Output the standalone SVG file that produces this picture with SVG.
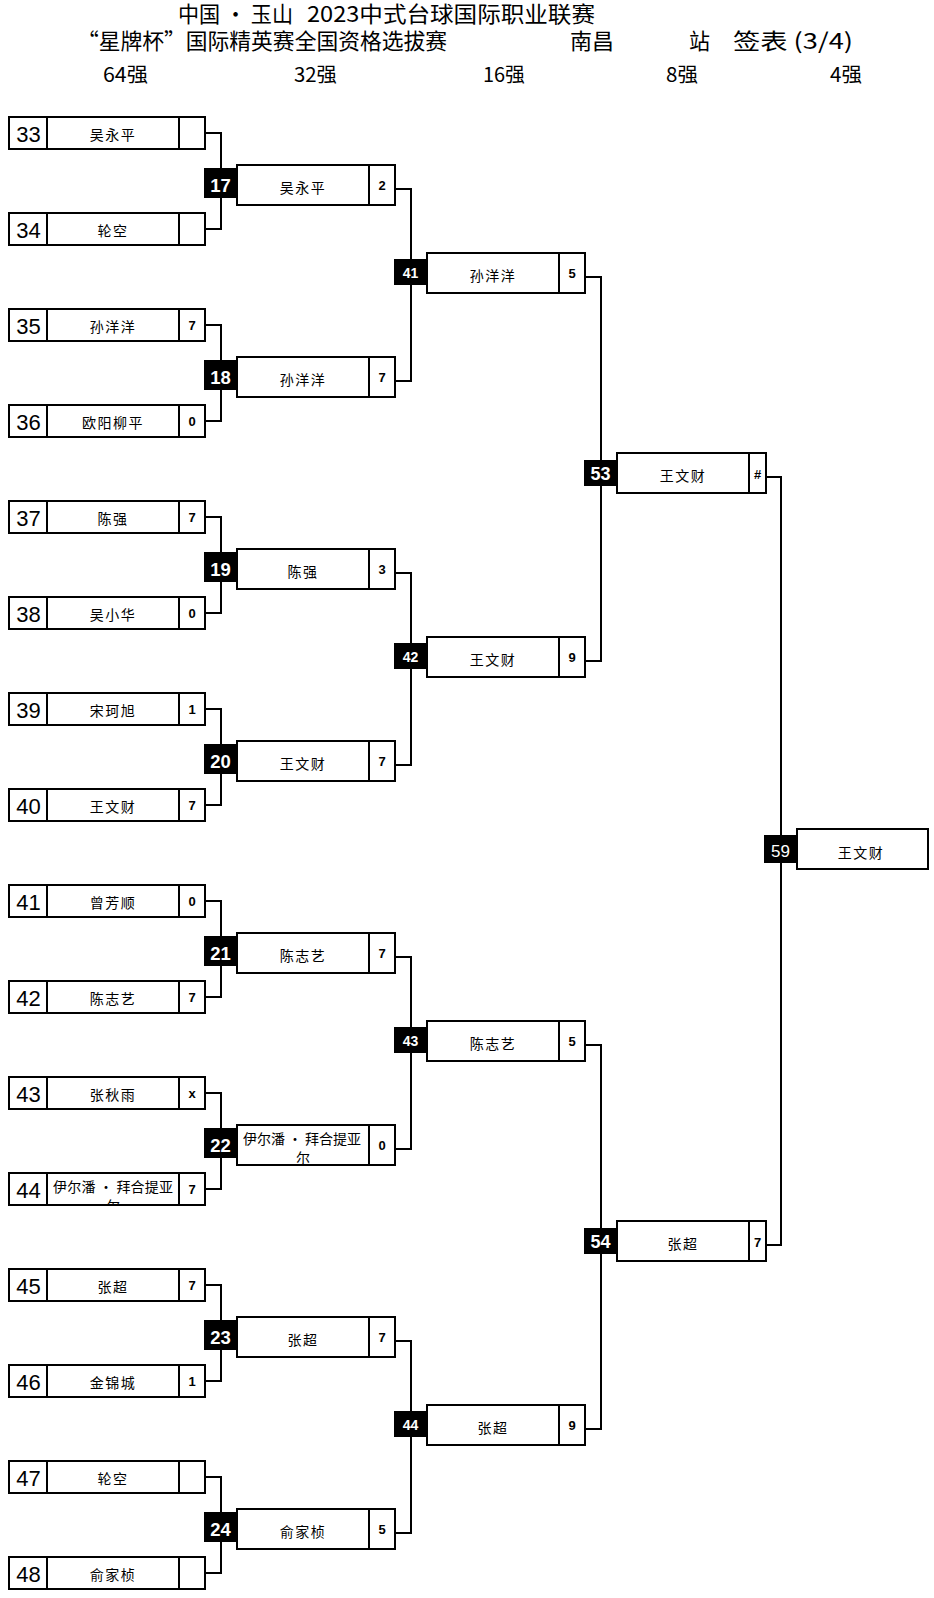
<svg xmlns="http://www.w3.org/2000/svg" width="934" height="1598" viewBox="0 0 934 1598">
<style>
.box{fill:#fff;stroke:#000;stroke-width:2}
.dv{fill:none;stroke:#000;stroke-width:2}
.conn{fill:none;stroke:#000;stroke-width:2}
.lb{fill:#000}
.t{font-family:"Noto Sans CJK SC",sans-serif;fill:#000}
.t1{font-size:22px}
.t3{font-size:20px}
.num{font-family:"Liberation Sans",Arial,sans-serif;font-size:22px;text-anchor:middle;fill:#000}
.nm{font-family:"Noto Sans CJK SC",sans-serif;font-size:14px;text-anchor:middle;letter-spacing:1.5px;fill:#000}
.nw{font-family:"Noto Sans CJK SC",sans-serif;font-size:14px;text-anchor:middle;fill:#000}
.sc{font-family:"Liberation Sans",Arial,sans-serif;font-weight:bold;font-size:13px;text-anchor:middle;fill:#000}
.l2{font-family:"Liberation Sans",Arial,sans-serif;font-weight:bold;font-size:18.5px;text-anchor:middle;fill:#fff}
.l3{font-family:"Liberation Sans",Arial,sans-serif;font-weight:bold;font-size:14px;text-anchor:middle;fill:#fff}
.l4{font-family:"Liberation Sans",Arial,sans-serif;font-weight:bold;font-size:18px;text-anchor:middle;fill:#fff}
.l5{font-family:"Liberation Sans",Arial,sans-serif;font-size:17px;text-anchor:middle;fill:#fff}
</style>
<defs>
<clipPath id="c44"><rect x="48" y="1174" width="130" height="30"/></clipPath>
</defs>
<g id="title">
<text class="t t1" x="178" y="22" textLength="115" lengthAdjust="spacingAndGlyphs">中国 · 玉山</text>
<text class="t t1" x="307" y="22" textLength="288" lengthAdjust="spacingAndGlyphs">2023中式台球国际职业联赛</text>
<text class="t t1" x="77" y="48.5" textLength="370" lengthAdjust="spacingAndGlyphs">“星牌杯”国际精英赛全国资格选拔赛</text>
<text class="t t1" x="570" y="48.5" textLength="44" lengthAdjust="spacingAndGlyphs">南昌</text>
<text class="t t1" x="689" y="48.5" textLength="21" lengthAdjust="spacingAndGlyphs">站</text>
<text class="t t1" x="733" y="48.5" textLength="120" lengthAdjust="spacingAndGlyphs">签表 (3/4)</text>
<text class="t t3" x="103" y="81.6" textLength="45" lengthAdjust="spacingAndGlyphs">64强</text>
<text class="t t3" x="294" y="81.6" textLength="43" lengthAdjust="spacingAndGlyphs">32强</text>
<text class="t t3" x="483" y="81.6" textLength="42" lengthAdjust="spacingAndGlyphs">16强</text>
<text class="t t3" x="666" y="81.6" textLength="32" lengthAdjust="spacingAndGlyphs">8强</text>
<text class="t t3" x="830" y="81.6" textLength="32" lengthAdjust="spacingAndGlyphs">4强</text>
</g>
<g id="connectors">
<path class="conn" d="M205,133H221V229H205M205,325H221V421H205M205,517H221V613H205M205,709H221V805H205M205,901H221V997H205M205,1093H221V1189H205M205,1285H221V1381H205M205,1477H221V1573H205"/>
<path class="conn" d="M395,189H411V381H395M395,573H411V765H395M395,957H411V1149H395M395,1341H411V1533H395"/>
<path class="conn" d="M585,277H601V661H585M585,1045H601V1429H585"/>
<path class="conn" d="M766,477H781V1245H766"/>
</g>
<g id="p33"><rect class="box" x="9" y="117" width="196" height="32"/><path class="dv" d="M47,117V149M179,117V149"/><text class="num" x="28.5" y="141.5">33</text><text class="nm" x="113" y="140">吴永平</text></g>
<g id="p34"><rect class="box" x="9" y="213" width="196" height="32"/><path class="dv" d="M47,213V245M179,213V245"/><text class="num" x="28.5" y="237.5">34</text><text class="nm" x="113" y="236">轮空</text></g>
<g id="p35"><rect class="box" x="9" y="309" width="196" height="32"/><path class="dv" d="M47,309V341M179,309V341"/><text class="num" x="28.5" y="333.5">35</text><text class="nm" x="113" y="332">孙洋洋</text><text class="sc" x="192" y="330">7</text></g>
<g id="p36"><rect class="box" x="9" y="405" width="196" height="32"/><path class="dv" d="M47,405V437M179,405V437"/><text class="num" x="28.5" y="429.5">36</text><text class="nm" x="113" y="428">欧阳柳平</text><text class="sc" x="192" y="426">0</text></g>
<g id="p37"><rect class="box" x="9" y="501" width="196" height="32"/><path class="dv" d="M47,501V533M179,501V533"/><text class="num" x="28.5" y="525.5">37</text><text class="nm" x="113" y="524">陈强</text><text class="sc" x="192" y="522">7</text></g>
<g id="p38"><rect class="box" x="9" y="597" width="196" height="32"/><path class="dv" d="M47,597V629M179,597V629"/><text class="num" x="28.5" y="621.5">38</text><text class="nm" x="113" y="620">吴小华</text><text class="sc" x="192" y="618">0</text></g>
<g id="p39"><rect class="box" x="9" y="693" width="196" height="32"/><path class="dv" d="M47,693V725M179,693V725"/><text class="num" x="28.5" y="717.5">39</text><text class="nm" x="113" y="716">宋珂旭</text><text class="sc" x="192" y="714">1</text></g>
<g id="p40"><rect class="box" x="9" y="789" width="196" height="32"/><path class="dv" d="M47,789V821M179,789V821"/><text class="num" x="28.5" y="813.5">40</text><text class="nm" x="113" y="812">王文财</text><text class="sc" x="192" y="810">7</text></g>
<g id="p41"><rect class="box" x="9" y="885" width="196" height="32"/><path class="dv" d="M47,885V917M179,885V917"/><text class="num" x="28.5" y="909.5">41</text><text class="nm" x="113" y="908">曾芳顺</text><text class="sc" x="192" y="906">0</text></g>
<g id="p42"><rect class="box" x="9" y="981" width="196" height="32"/><path class="dv" d="M47,981V1013M179,981V1013"/><text class="num" x="28.5" y="1005.5">42</text><text class="nm" x="113" y="1004">陈志艺</text><text class="sc" x="192" y="1002">7</text></g>
<g id="p43"><rect class="box" x="9" y="1077" width="196" height="32"/><path class="dv" d="M47,1077V1109M179,1077V1109"/><text class="num" x="28.5" y="1101.5">43</text><text class="nm" x="113" y="1100">张秋雨</text><text class="sc" x="192" y="1098">x</text></g>
<g id="p44"><rect class="box" x="9" y="1173" width="196" height="32"/><path class="dv" d="M47,1173V1205M179,1173V1205"/><text class="num" x="28.5" y="1197.5">44</text><g clip-path="url(#c44)"><text class="nw" x="113" y="1191.5" textLength="120" lengthAdjust="spacing">伊尔潘 · 拜合提亚</text><text class="nw" x="113" y="1210.5">尔</text></g><text class="sc" x="192" y="1194">7</text></g>
<g id="p45"><rect class="box" x="9" y="1269" width="196" height="32"/><path class="dv" d="M47,1269V1301M179,1269V1301"/><text class="num" x="28.5" y="1293.5">45</text><text class="nm" x="113" y="1292">张超</text><text class="sc" x="192" y="1290">7</text></g>
<g id="p46"><rect class="box" x="9" y="1365" width="196" height="32"/><path class="dv" d="M47,1365V1397M179,1365V1397"/><text class="num" x="28.5" y="1389.5">46</text><text class="nm" x="113" y="1388">金锦城</text><text class="sc" x="192" y="1386">1</text></g>
<g id="p47"><rect class="box" x="9" y="1461" width="196" height="32"/><path class="dv" d="M47,1461V1493M179,1461V1493"/><text class="num" x="28.5" y="1485.5">47</text><text class="nm" x="113" y="1484">轮空</text></g>
<g id="p48"><rect class="box" x="9" y="1557" width="196" height="32"/><path class="dv" d="M47,1557V1589M179,1557V1589"/><text class="num" x="28.5" y="1581.5">48</text><text class="nm" x="113" y="1580">俞家桢</text></g>
<g id="m17"><rect class="box" x="237" y="165" width="158" height="40"/><path class="dv" d="M369,165V205"/><rect class="lb" x="204" y="168" width="33" height="30"/><text class="l2" x="220.5" y="192.3">17</text><text class="nm" x="303" y="193">吴永平</text><text class="sc" x="382" y="190">2</text></g>
<g id="m18"><rect class="box" x="237" y="357" width="158" height="40"/><path class="dv" d="M369,357V397"/><rect class="lb" x="204" y="360" width="33" height="30"/><text class="l2" x="220.5" y="384.3">18</text><text class="nm" x="303" y="385">孙洋洋</text><text class="sc" x="382" y="382">7</text></g>
<g id="m19"><rect class="box" x="237" y="549" width="158" height="40"/><path class="dv" d="M369,549V589"/><rect class="lb" x="204" y="552" width="33" height="30"/><text class="l2" x="220.5" y="576.3">19</text><text class="nm" x="303" y="577">陈强</text><text class="sc" x="382" y="574">3</text></g>
<g id="m20"><rect class="box" x="237" y="741" width="158" height="40"/><path class="dv" d="M369,741V781"/><rect class="lb" x="204" y="744" width="33" height="30"/><text class="l2" x="220.5" y="768.3">20</text><text class="nm" x="303" y="769">王文财</text><text class="sc" x="382" y="766">7</text></g>
<g id="m21"><rect class="box" x="237" y="933" width="158" height="40"/><path class="dv" d="M369,933V973"/><rect class="lb" x="204" y="936" width="33" height="30"/><text class="l2" x="220.5" y="960.3">21</text><text class="nm" x="303" y="961">陈志艺</text><text class="sc" x="382" y="958">7</text></g>
<g id="m22"><rect class="box" x="237" y="1125" width="158" height="40"/><path class="dv" d="M369,1125V1165"/><rect class="lb" x="204" y="1128" width="33" height="30"/><text class="l2" x="220.5" y="1152.3">22</text><text class="nw" x="302" y="1144" textLength="118" lengthAdjust="spacing">伊尔潘 · 拜合提亚</text><text class="nw" x="303" y="1163">尔</text><text class="sc" x="382" y="1150">0</text></g>
<g id="m23"><rect class="box" x="237" y="1317" width="158" height="40"/><path class="dv" d="M369,1317V1357"/><rect class="lb" x="204" y="1320" width="33" height="30"/><text class="l2" x="220.5" y="1344.3">23</text><text class="nm" x="303" y="1345">张超</text><text class="sc" x="382" y="1342">7</text></g>
<g id="m24"><rect class="box" x="237" y="1509" width="158" height="40"/><path class="dv" d="M369,1509V1549"/><rect class="lb" x="204" y="1512" width="33" height="30"/><text class="l2" x="220.5" y="1536.3">24</text><text class="nm" x="303" y="1537">俞家桢</text><text class="sc" x="382" y="1534">5</text></g>
<g id="m41"><rect class="box" x="427" y="253" width="158" height="40"/><path class="dv" d="M559,253V293"/><rect class="lb" x="394" y="259" width="33" height="26"/><text class="l3" x="410.5" y="278.3">41</text><text class="nm" x="493" y="281">孙洋洋</text><text class="sc" x="572" y="278.3">5</text></g>
<g id="m42"><rect class="box" x="427" y="637" width="158" height="40"/><path class="dv" d="M559,637V677"/><rect class="lb" x="394" y="643" width="33" height="26"/><text class="l3" x="410.5" y="662.3">42</text><text class="nm" x="493" y="665">王文财</text><text class="sc" x="572" y="662.3">9</text></g>
<g id="m43"><rect class="box" x="427" y="1021" width="158" height="40"/><path class="dv" d="M559,1021V1061"/><rect class="lb" x="394" y="1027" width="33" height="26"/><text class="l3" x="410.5" y="1046.3">43</text><text class="nm" x="493" y="1049">陈志艺</text><text class="sc" x="572" y="1046.3">5</text></g>
<g id="m44"><rect class="box" x="427" y="1405" width="158" height="40"/><path class="dv" d="M559,1405V1445"/><rect class="lb" x="394" y="1411" width="33" height="26"/><text class="l3" x="410.5" y="1430.3">44</text><text class="nm" x="493" y="1433">张超</text><text class="sc" x="572" y="1430.3">9</text></g>
<g id="m53"><rect class="box" x="617" y="453" width="149" height="40"/><path class="dv" d="M749,453V493"/><rect class="lb" x="584" y="460" width="33" height="26"/><text class="l4" x="600.5" y="480">53</text><text class="nm" x="683" y="481">王文财</text><text class="sc" x="757.5" y="479">#</text></g>
<g id="m54"><rect class="box" x="617" y="1221" width="149" height="40"/><path class="dv" d="M749,1221V1261"/><rect class="lb" x="584" y="1228" width="33" height="26"/><text class="l4" x="600.5" y="1248">54</text><text class="nm" x="683" y="1249">张超</text><text class="sc" x="757.5" y="1247">7</text></g>
<g id="m59"><rect class="box" x="797" y="829" width="131" height="40"/><rect class="lb" x="764" y="835" width="33" height="28"/><text class="l5" x="780.5" y="857.3">59</text><text class="nm" x="861" y="857.5">王文财</text></g>
</svg>
